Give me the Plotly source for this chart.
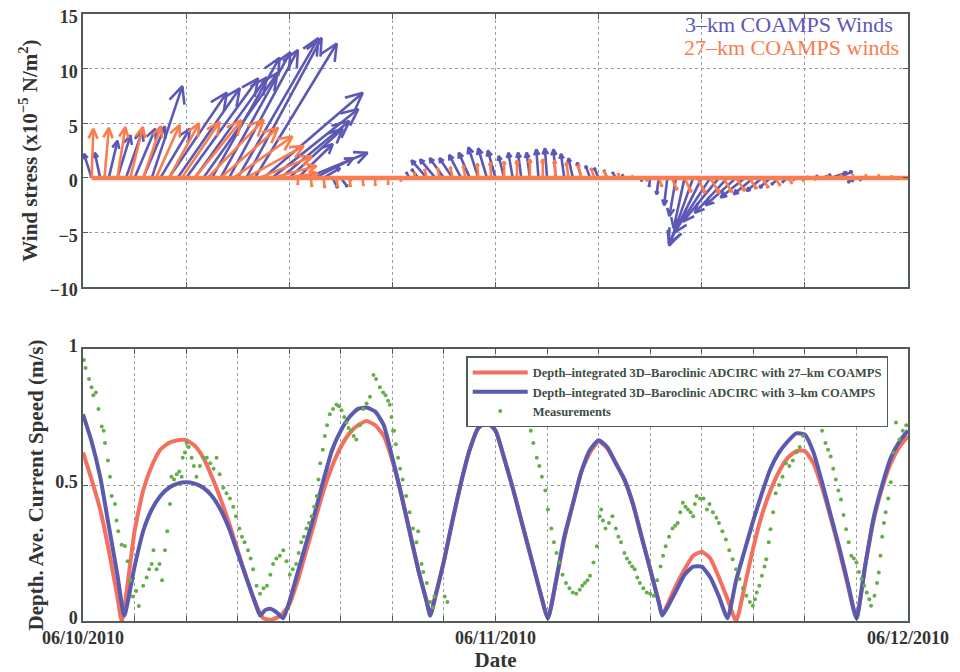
import math
import numpy as np
import plotly.graph_objects as go

# ---------------- DATA ----------------
# time axis: hours after 06/10/2010 00:00
# --- wind stress vectors (x1e-5 N/m^2), 3-km COAMPS, every 0.5 h
t_3km = np.arange(0.5, 47.51, 0.5)
u_3km = [-0.7, -0.5, 0.8, 1.2, 1.5, 1.9, 2.0, 2.8, 2.7, 5.3,
         5.7, 6.6, 6.6, 6.8, 6.2, 6.4, 6.3, 7.4, 6.9, 7.5,
         9.1, 7.9, 6.3, 4.9, 3.2, 5.6, 3.5, 1.5, 0.5, 0.6,
         0.1, 0.0, 0.0, 0.0, 0.0, 0.0, 0.0, -0.3, -0.6, -1.4,
         -1.4, -1.3, -1.2, -1.1, -1.0, -0.9, -0.8, -0.7, -0.5, -0.4,
         -0.3, -0.3, -0.2, -0.2, -0.2, -0.3, -0.4, -0.4, -0.4, -0.4,
         -0.3, -0.3, -0.2, 0.0, 0.0, -0.1, -0.2, -0.3, -0.6, -1.0,
         -2.2, -3.0, -3.3, -3.3, -3.0, -2.8, -2.2, -1.8, -1.4, -1.0,
         -0.7, -0.5, -0.3, 0.3, 0.4, 0.8, 1.5, 1.2, 0.5, -0.8,
         -0.5, 0.0, 0.0, 0.0, 0.0]
v_3km = [2.2, 2.3, 3.4, 3.9, 4.3, 4.5, 4.7, 8.4, 4.5, 7.8,
         8.2, 9.1, 9.2, 9.6, 11.0, 11.5, 11.7, 12.8, 12.8, 12.3,
         7.8, 6.3, 5.2, 4.5, 3.1, 2.3, 1.8, 0.9, -0.9, -0.8,
         -0.3, -0.1, 0.0, 0.0, 0.0, 0.0, 0.1, 0.5, 0.8, 1.6,
         1.7, 1.8, 1.8, 2.1, 2.3, 2.8, 2.7, 2.5, 2.0, 2.3,
         2.3, 2.3, 2.6, 2.7, 2.6, 2.2, 1.8, 1.4, 1.1, 0.9,
         0.7, 0.5, 0.3, 0.1, -0.3, -0.8, -1.5, -2.5, -3.5, -4.6,
         -6.2, -6.0, -5.0, -4.0, -3.2, -2.5, -1.8, -1.5, -1.2, -0.9,
         -0.6, -0.4, -0.2, 0.1, 0.2, 0.3, 0.5, 0.6, -0.3, -0.4,
         -0.2, 0.0, 0.0, 0.0, 0.0]

# --- wind stress vectors, 27-km COAMPS, every 0.75 h
t_27km = np.arange(0.5, 47.76, 0.75)
u_27km = [0.16, 0.40, 0.73, 1.16, 1.63, 2.16, 2.76, 3.47, 4.28, 5.14,
          5.28, 5.41, 5.25, 4.82, 4.06, 2.97, 0.0, 0.1, 0.1, 0.1,
          0.1, 0.1, 0.0, 0.0, 0.0, 0.1, -0.2, -0.2, -0.2, -0.2,
          -0.1, -0.1, 0.0, 0.0, 0.0, 0.0, -0.1, -0.2, -0.3, -0.3,
          -0.3, -0.2, -0.1, 0.1, 0.3, 0.5, 0.6, 0.7, 0.8, 0.8,
          0.8, 0.7, 0.6, 0.5, 0.4, 0.3, 0.2, 0.2, 0.2, 0.1,
          0.1, 0.1, 0.1, 0.0]
v_27km = [4.50, 4.58, 4.64, 4.66, 4.73, 4.84, 4.99, 5.14, 5.28, 5.32,
          4.59, 3.79, 2.91, 1.95, 1.09, 0.42, -0.6, -0.8, -0.9, -0.8,
          -0.8, -0.7, -0.7, -0.6, -0.3, 0.5, 0.8, 0.9, 1.0, 1.1,
          1.3, 1.4, 1.5, 1.6, 1.7, 1.7, 1.6, 1.4, 1.2, 0.9,
          0.6, 0.4, 0.2, -0.3, -0.8, -1.1, -1.3, -1.4, -1.4, -1.3,
          -1.2, -1.0, -0.9, -0.7, -0.5, -0.3, -0.2, 0.2, 0.3, 0.3,
          0.3, 0.3, 0.2, 0.1]

# --- depth-averaged current speed (m/s), ADCIRC with 27-km COAMPS
t_spd27 = [0.0, 0.5, 1.0, 1.5, 2.0, 2.25, 2.5, 3.0, 3.5, 4.0, 4.5, 5.0, 5.5, 6.0, 6.5,
           7.0, 7.5, 8.0, 8.5, 9.0, 9.5, 10.0, 10.5, 11.0, 11.5, 12.0, 12.5, 13.0,
           13.5, 14.0, 14.5, 15.0, 15.5, 16.0, 16.5, 17.0, 17.5, 18.0, 18.5, 19.0,
           19.5, 20.0, 20.2, 20.5, 21.0, 21.5, 22.0, 22.5, 23.0, 23.5, 24.0, 24.5,
           25.0, 25.5, 26.0, 26.5, 27.05, 27.5, 28.0, 28.5, 29.0, 29.5, 30.0, 30.5,
           31.0, 31.5, 32.0, 32.5, 33.0, 33.5, 33.7, 34.0, 34.5, 35.0, 35.5, 36.0,
           36.5, 37.0, 37.5, 38.0, 38.5, 39.0, 39.5, 40.0, 40.5, 41.0, 41.5, 42.0,
           42.5, 43.0, 43.5, 44.0, 44.5, 45.0, 45.5, 46.0, 46.5, 47.0, 47.5, 48.0]
spd27 = [0.62, 0.52, 0.41, 0.26, 0.09, 0.0, 0.09, 0.33, 0.48, 0.57, 0.63, 0.655, 0.665, 0.665, 0.645,
         0.60, 0.53, 0.45, 0.36, 0.26, 0.16, 0.07, 0.01, 0.005, 0.02, 0.06, 0.15, 0.26,
         0.37, 0.48, 0.57, 0.64, 0.69, 0.72, 0.735, 0.72, 0.68, 0.59, 0.47, 0.33,
         0.19, 0.07, 0.02, 0.09, 0.22, 0.37, 0.51, 0.63, 0.71, 0.73, 0.70, 0.60,
         0.49, 0.37, 0.25, 0.13, 0.01, 0.14, 0.30, 0.43, 0.55, 0.62, 0.66, 0.635,
         0.58, 0.52, 0.43, 0.31, 0.19, 0.07, 0.02, 0.06, 0.13, 0.19, 0.24, 0.255,
         0.23, 0.16, 0.08, 0.0, 0.13, 0.27, 0.39, 0.48, 0.55, 0.60, 0.625, 0.625,
         0.58, 0.49, 0.38, 0.26, 0.13, 0.01, 0.20, 0.37, 0.49, 0.58, 0.64, 0.68]

# --- depth-averaged current speed (m/s), ADCIRC with 3-km COAMPS
t_spd3 = [0.0, 0.5, 1.0, 1.5, 2.0, 2.4, 3.0, 3.5, 4.0, 4.5, 5.0, 5.5, 6.0, 6.5,
          7.0, 7.5, 8.0, 8.5, 9.0, 9.5, 10.0, 10.3, 10.6, 10.9, 11.3, 11.65, 12.0, 12.5,
          13.0, 13.5, 14.0, 14.5, 15.0, 15.5, 16.0, 16.5, 17.0, 17.5, 18.0, 18.5, 19.0,
          19.5, 20.0, 20.2, 20.5, 21.0, 21.5, 22.0, 22.5, 23.0, 23.5, 24.0, 24.5,
          25.0, 25.5, 26.0, 26.5, 27.05, 27.5, 28.0, 28.5, 29.0, 29.5, 30.0, 30.5,
          31.0, 31.5, 32.0, 32.5, 33.0, 33.5, 33.7, 34.0, 34.5, 35.0, 35.5, 36.0,
          36.5, 37.0, 37.5, 38.0, 38.5, 39.0, 39.5, 40.0, 40.5, 41.0, 41.5, 42.0,
          42.5, 43.0, 43.5, 44.0, 44.5, 45.0, 45.5, 46.0, 46.5, 47.0, 47.5, 48.0]
spd3 = [0.76, 0.66, 0.53, 0.35, 0.17, 0.02, 0.20, 0.33, 0.41, 0.46, 0.49, 0.505, 0.51, 0.505,
        0.49, 0.46, 0.41, 0.34, 0.25, 0.16, 0.07, 0.02, 0.04, 0.045, 0.03, 0.01, 0.07, 0.18,
        0.29, 0.40, 0.52, 0.63, 0.70, 0.75, 0.78, 0.785, 0.77, 0.72, 0.60, 0.47, 0.33,
        0.19, 0.07, 0.02, 0.09, 0.22, 0.37, 0.51, 0.63, 0.71, 0.73, 0.70, 0.60,
        0.49, 0.37, 0.25, 0.13, 0.01, 0.14, 0.31, 0.43, 0.55, 0.63, 0.665, 0.64,
        0.58, 0.52, 0.43, 0.31, 0.19, 0.07, 0.02, 0.05, 0.11, 0.17, 0.20, 0.20,
        0.16, 0.09, 0.01, 0.15, 0.26, 0.37, 0.47, 0.56, 0.62, 0.66, 0.69, 0.685,
        0.62, 0.51, 0.39, 0.27, 0.14, 0.01, 0.20, 0.38, 0.50, 0.60, 0.66, 0.70]

# --- measurements (m/s)
meas_t = [0.05, 0.15, 0.35, 0.5, 0.6, 0.75, 0.9, 1.09, 1.2, 1.28, 1.45, 1.57, 1.67, 1.86, 1.95,
          2.05, 2.25, 2.44, 2.6, 2.75, 2.9, 3.1, 3.25, 3.5, 3.7, 3.85, 4.0, 4.1, 4.28, 4.45,
          4.6, 4.77, 4.9, 5.06, 5.15, 5.3, 5.45, 5.6, 5.74, 5.8, 5.93, 6.03, 6.15, 6.32, 6.45,
          6.6, 6.8, 7.0, 7.2, 7.4, 7.6, 7.77, 7.95, 8.16, 8.35, 8.55, 8.74, 8.9, 9.1, 9.25,
          9.4, 9.6, 9.75, 9.9, 10.1, 10.3, 10.5, 10.7, 10.9, 11.06, 11.25, 11.45, 11.65, 11.84,
          12.03, 12.2, 12.4, 12.55, 12.7, 12.85, 13.0, 13.15, 13.3, 13.45, 13.6, 13.7, 13.8,
          13.95, 14.07, 14.2, 14.36, 14.55, 14.75, 14.9, 15.04, 15.2, 15.33, 15.45, 15.6, 15.75,
          15.9, 16.1, 16.3, 16.5, 16.7, 16.9, 17.05, 17.27, 17.46, 17.6, 17.75, 17.85, 17.95,
          18.04, 18.1, 18.2, 18.33, 18.45, 18.6, 18.8, 19.0, 19.2, 19.4, 19.5, 19.7, 19.8,
          20.0, 20.2, 20.35, 20.45, 21.04, 21.2,
          25.9, 26.05, 26.2, 26.4, 26.55, 26.7, 26.9, 27.05, 27.25, 27.4, 27.55, 27.7, 27.9,
          28.1, 28.3, 28.5, 28.7, 28.9, 29.05, 29.2, 29.35, 29.5, 29.7, 29.9, 30.06, 30.15,
          30.25, 30.4, 30.6, 30.8, 31.0, 31.15, 31.3, 31.5, 31.65, 31.8, 31.95, 32.1, 32.25,
          32.4, 32.6, 32.8, 33.0, 33.2, 33.4, 33.6, 33.75, 33.9, 34.1, 34.3, 34.45, 34.6,
          34.75, 34.9, 35.05, 35.2, 35.35, 35.5, 35.6, 35.7, 35.9, 36.1, 36.3, 36.45, 36.65,
          36.85, 37.0, 37.2, 37.4, 37.6, 37.8, 38.0, 38.2, 38.4, 38.6, 38.8, 38.97, 39.1,
          39.2, 39.35, 39.5, 39.65, 39.75, 39.9, 40.0, 40.15, 40.3, 40.5, 40.7, 40.9, 41.1,
          41.3, 41.5, 41.7, 41.9, 42.1, 42.3, 42.5, 42.65, 42.8, 43.0, 43.2, 43.35, 43.5,
          43.65, 43.8, 43.95, 44.1, 44.25, 44.4, 44.55, 44.7, 44.85, 45.0, 45.15, 45.3, 45.45,
          45.6, 45.75, 45.85, 46.05, 46.2, 46.3, 46.4, 46.5, 46.6, 46.7, 46.85, 47.0, 47.15,
          47.3, 47.5, 47.7, 47.9]
meas_v = [0.96, 0.93, 0.89, 0.86, 0.83, 0.84, 0.78, 0.715, 0.70, 0.655, 0.59, 0.53, 0.46, 0.43, 0.37,
          0.33, 0.28, 0.276, 0.22, 0.15, 0.09, 0.11, 0.055, 0.13, 0.16, 0.19, 0.21, 0.26, 0.19, 0.21,
          0.15, 0.26, 0.33, 0.43, 0.53, 0.52, 0.54, 0.55, 0.53, 0.60, 0.62, 0.655, 0.64, 0.60, 0.57,
          0.53, 0.57, 0.60, 0.60, 0.58, 0.56, 0.60, 0.54, 0.49, 0.47, 0.45, 0.42, 0.385, 0.34, 0.31,
          0.29, 0.26, 0.23, 0.19, 0.13, 0.10, 0.12, 0.13, 0.17, 0.21, 0.23, 0.24, 0.26, 0.22,
          0.17, 0.19, 0.21, 0.25, 0.29, 0.31, 0.34, 0.36, 0.385, 0.42, 0.46, 0.52, 0.58,
          0.63, 0.68, 0.72, 0.76, 0.78, 0.795, 0.79, 0.775, 0.75, 0.73, 0.71, 0.70, 0.68,
          0.667, 0.72, 0.78, 0.80, 0.825, 0.905, 0.89, 0.86, 0.84, 0.83, 0.81, 0.795, 0.75,
          0.70, 0.70, 0.65, 0.60, 0.56, 0.52, 0.46, 0.40, 0.34, 0.29, 0.33, 0.21, 0.18,
          0.14, 0.07, 0.05, 0.09, 0.09, 0.07,
          0.74, 0.70, 0.655, 0.60, 0.57, 0.53, 0.48, 0.41, 0.34, 0.29, 0.25, 0.215, 0.17,
          0.14, 0.12, 0.105, 0.10, 0.115, 0.13, 0.14, 0.15, 0.166, 0.215, 0.275, 0.385, 0.41,
          0.37, 0.34, 0.36, 0.385, 0.34, 0.31, 0.29, 0.25, 0.23, 0.215, 0.20, 0.19, 0.16,
          0.14, 0.12, 0.105, 0.10, 0.093, 0.15, 0.20, 0.24, 0.275, 0.31, 0.34, 0.35, 0.36,
          0.40, 0.435, 0.42, 0.41, 0.40, 0.385, 0.43, 0.46, 0.45, 0.45, 0.41, 0.43, 0.40,
          0.38, 0.36, 0.33, 0.30, 0.26, 0.227, 0.19, 0.154, 0.12, 0.093, 0.07, 0.056, 0.08,
          0.105, 0.13, 0.166, 0.20, 0.227, 0.29, 0.337, 0.40, 0.47, 0.50, 0.53, 0.58, 0.57,
          0.59, 0.62, 0.64, 0.68, 0.73, 0.72, 0.74, 0.76, 0.75, 0.70, 0.655, 0.63, 0.605,
          0.56, 0.52, 0.48, 0.447, 0.39, 0.337, 0.29, 0.24, 0.23, 0.215, 0.18, 0.154, 0.13,
          0.105, 0.08, 0.056, 0.093, 0.14, 0.178, 0.24, 0.31, 0.36, 0.40, 0.45, 0.51, 0.62,
          0.73, 0.667, 0.70, 0.72]

xtick_vals = list(range(0, 49, 3))
xtick_text = ["06/10/2010" if v == 0 else "06/11/2010" if v == 24 else "06/12/2010" if v == 48 else ""
              for v in xtick_vals]

# ---------------- STYLE ----------------
BLUE = "#5b58b6"
ORANGE = "#fb7d4e"
RED_LINE = "#f36f5f"
BLUE_LINE = "#5a5aae"
GREEN = "#64ad48"
FRAME = "#505c56"
TXT = "#333333"
SERIF = "Liberation Serif"

K = 0.635  # hours per stress unit so arrows keep true angles on screen


def quiver_xy(t, u, v):
    xs, ys = [], []
    for ti, ui, vi in zip(t, u, v):
        L = math.hypot(ui, vi)
        if L < 0.05:
            continue
        xs += [ti, ti + ui * K, None]
        ys += [0.0, vi, None]
        h = min(0.22 * L, 1.7)
        ang = math.atan2(vi, ui)
        pts = []
        for s in (1, -1):
            a = ang + math.pi + s * math.radians(25)
            pts.append((ui + h * math.cos(a), vi + h * math.sin(a)))
        xs += [ti + pts[0][0] * K, ti + ui * K, ti + pts[1][0] * K, None]
        ys += [pts[0][1], vi, pts[1][1], None]
    return xs, ys


fig = go.Figure()

bx, by = quiver_xy(t_3km, u_3km, v_3km)
fig.add_trace(go.Scatter(x=bx, y=by, mode="lines", line=dict(color=BLUE, width=2.6),
                         showlegend=False, hoverinfo="skip", xaxis="x", yaxis="y"))
ox, oy = quiver_xy(t_27km, u_27km, v_27km)
fig.add_trace(go.Scatter(x=ox, y=oy, mode="lines", line=dict(color=ORANGE, width=2.6),
                         showlegend=False, hoverinfo="skip", xaxis="x", yaxis="y"))
fig.add_trace(go.Scatter(x=[t_27km[0], 48], y=[0, 0], mode="lines",
                         line=dict(color=ORANGE, width=4.5), showlegend=False,
                         hoverinfo="skip", xaxis="x", yaxis="y"))

fig.add_trace(go.Scatter(x=t_spd27, y=spd27, mode="lines",
                         line=dict(color=RED_LINE, width=4, shape="spline", smoothing=0.5),
                         name="Depth\u2013integrated 3D\u2013Baroclinic ADCIRC with 27\u2013km COAMPS",
                         xaxis="x2", yaxis="y2"))
fig.add_trace(go.Scatter(x=t_spd3, y=spd3, mode="lines",
                         line=dict(color=BLUE_LINE, width=4, shape="spline", smoothing=0.5),
                         name="Depth\u2013integrated 3D\u2013Baroclinic ADCIRC with 3\u2013km COAMPS",
                         xaxis="x2", yaxis="y2"))
fig.add_trace(go.Scatter(x=meas_t, y=meas_v, mode="markers",
                         marker=dict(color=GREEN, size=4), name="Measurements",
                         xaxis="x2", yaxis="y2"))

tickfont = dict(family=SERIF, size=18, color=TXT, weight="bold")
common = dict(showline=True, linecolor=FRAME, linewidth=1.5, mirror="allticks",
              ticks="inside", ticklen=5, tickcolor=FRAME, tickwidth=1.2,
              showgrid=True, gridcolor="#9c9c9c", griddash="dot", gridwidth=1,
              zeroline=False, automargin=False, tickfont=tickfont,
              ticklabeloverflow="allow")
title_font = dict(family=SERIF, size=21, color=TXT, weight="bold")

# the page adds an 8 px body margin, so the figure is 8 px smaller than the window
fig.update_layout(
    width=952, height=664, template="none",
    paper_bgcolor="white", plot_bgcolor="white",
    margin=dict(l=75, r=52, t=6, b=51),
    xaxis=dict(domain=[0, 1], anchor="y", range=[0, 48], tickvals=list(range(0, 49, 6)),
               showticklabels=False, **common),
    yaxis=dict(domain=[0.55, 1], anchor="x", range=[-10, 15], tickvals=[-10, -5, 0, 5, 10, 15],
               ticklabelshift=3,
               title=dict(text="Wind stress (x10<sup>\u22125</sup> N/m<sup>2</sup>)",
                          font=title_font, standoff=6),
               **common),
    xaxis2=dict(domain=[0, 1], anchor="y2", range=[0, 48], tickvals=xtick_vals, ticktext=xtick_text,
                title=dict(text="Date", font=title_font, standoff=2),
                **common),
    yaxis2=dict(domain=[0, 0.448], anchor="x2", range=[0, 1], tickvals=[0, 0.5, 1],
                ticktext=["0", "0.5", "1"], ticklabelshift=-3,
                title=dict(text="Depth. Ave. Current Speed (m/s)", font=title_font, standoff=6),
                **common),
    legend=dict(x=0.976, xanchor="right", y=0.436, yanchor="top",
                bgcolor="white", bordercolor=FRAME, borderwidth=1.5,
                font=dict(family=SERIF, size=12.5, color="#3d4d44", weight="bold"),
                tracegroupgap=0, itemwidth=55),
    annotations=[
        dict(text="3\u2013km COAMPS Winds", xref="paper", yref="paper", x=0.984, y=0.982,
             xanchor="right", yanchor="middle", showarrow=False,
             font=dict(family=SERIF, size=22, color=BLUE)),
        dict(text="27\u2013km COAMPS winds", xref="paper", yref="paper", x=0.992, y=0.945,
             xanchor="right", yanchor="middle", showarrow=False,
             font=dict(family=SERIF, size=22, color=ORANGE)),
    ],
)

fig.write_html("out.html")
